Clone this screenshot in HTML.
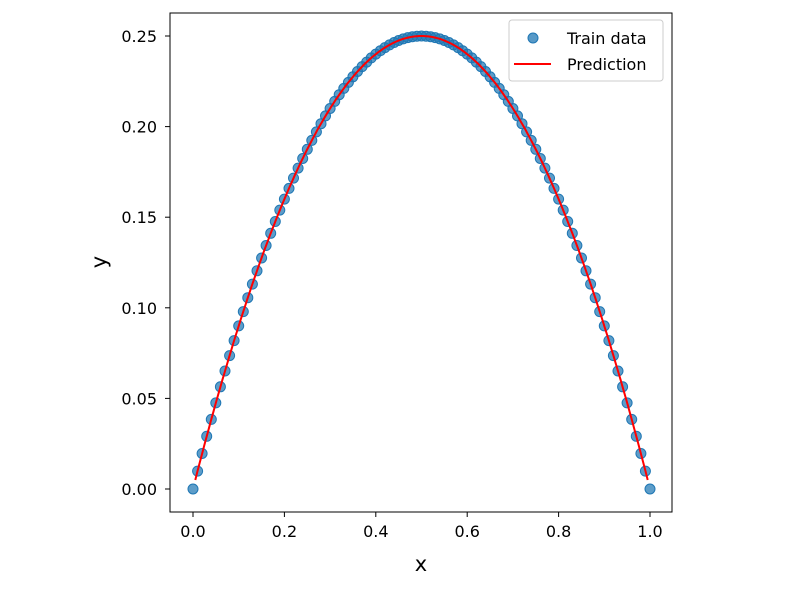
<!DOCTYPE html>
<html><head><meta charset="utf-8"><style>
body{margin:0;background:#fff}
svg text{font-family:"DejaVu Sans","Liberation Sans",sans-serif;fill:#000}
</style></head><body>
<svg id="s" width="800" height="588" xmlns="http://www.w3.org/2000/svg">
<rect x="0" y="0" width="800" height="588" fill="#fff"/>
<g id="pts"></g>
<polyline id="pred" fill="none" stroke="#ff0000" stroke-width="2"/>
<rect x="170" y="13" width="502" height="499" fill="none" stroke="#000" stroke-width="1"/>
<g id="ticks" font-size="16"></g>
<text x="421" y="571" font-size="21" text-anchor="middle">x</text>
<text x="0" y="0" font-size="21" text-anchor="middle" transform="translate(106,262) rotate(-90)">y</text>
<rect x="509" y="20" width="154" height="61" rx="3" fill="#fff" fill-opacity="0.8" stroke="#ccc"/>
<circle cx="533" cy="38" r="5" fill="#1f77b4" fill-opacity="0.75" stroke="#1f77b4"/>
<text x="567" y="44" font-size="16">Train data</text>
<line x1="514" y1="64" x2="551" y2="64" stroke="#ff0000" stroke-width="2"/>
<text x="567" y="70" font-size="16">Prediction</text>
</svg>
<script>
var X=x=>193+x*457, Y=y=>489-y*1812;
var g=document.getElementById('pts'),h='';
for(var i=0;i<=100;i++){var x=i/100;h+='<circle cx="'+X(x).toFixed(1)+'" cy="'+Y(x*(1-x)).toFixed(1)+'" r="5" fill="#1f77b4" fill-opacity="0.72" stroke="#1f77b4" stroke-width="1"/>';}
g.innerHTML=h;
var p=[];for(var i=0;i<=200;i++){var x=0.005+i*0.99/200;p.push(X(x).toFixed(1)+','+Y(x*(1-x)).toFixed(1));}
document.getElementById('pred').setAttribute('points',p.join(' '));
var t='';
for(var i=0;i<=5;i++){var x=i/5,px=X(x);t+='<line x1="'+px+'" y1="512" x2="'+px+'" y2="517" stroke="#000"/><text x="'+px+'" y="537" text-anchor="middle">'+x.toFixed(1)+'</text>';}
for(var i=0;i<=5;i++){var y=i*0.05,py=Y(y);t+='<line x1="165" y1="'+py+'" x2="170" y2="'+py+'" stroke="#000"/><text x="157" y="'+(py+6)+'" text-anchor="end">'+y.toFixed(2)+'</text>';}
document.getElementById('ticks').innerHTML=t;
</script>
</body></html>
